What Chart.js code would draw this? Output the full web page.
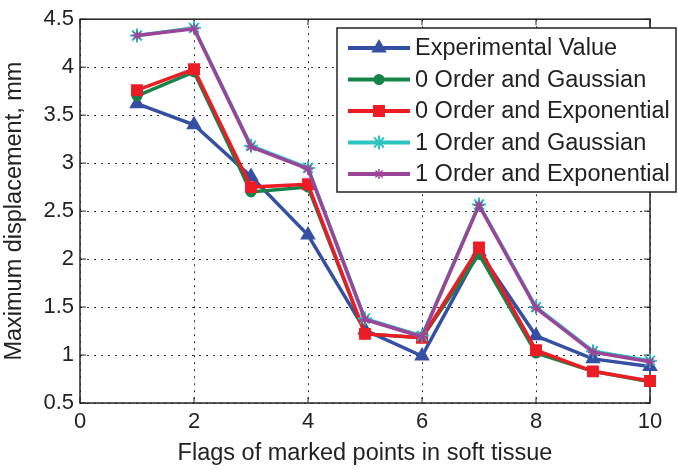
<!DOCTYPE html>
<html>
<head>
<meta charset="utf-8">
<script src="https://cdn.jsdelivr.net/npm/chart.js@4/dist/chart.umd.min.js"></script>
<style>
  html, body { margin: 0; padding: 0; background: #fff; }
  #wrap { width: 678px; height: 470px; }
</style>
</head>
<body>
<div id="wrap"><canvas id="c" width="678" height="470"></canvas></div>
<script>
const flags = [1, 2, 3, 4, 5, 6, 7, 8, 9, 10];
const expValue = [3.62, 3.40, 2.86, 2.25, 1.26, 0.99, 2.08, 1.20, 0.96, 0.88];
const order0Gauss = [3.70, 3.95, 2.70, 2.75, 1.22, 1.18, 2.05, 1.02, 0.83, 0.72];
const order0Exp = [3.76, 3.98, 2.75, 2.78, 1.22, 1.18, 2.12, 1.05, 0.83, 0.73];
const order1Gauss = [4.33, 4.41, 3.18, 2.95, 1.38, 1.20, 2.57, 1.50, 1.04, 0.94];
const order1Exp = [4.33, 4.40, 3.17, 2.94, 1.37, 1.19, 2.56, 1.49, 1.03, 0.93];
const xTicks = [0, 2, 4, 6, 8, 10];
const yTicks = [0.5, 1, 1.5, 2, 2.5, 3, 3.5, 4, 4.5];

const FONT = '"Liberation Sans", Arial, Helvetica, sans-serif';

const pts = vals => flags.map((f, i) => ({ x: f, y: vals[i] }));

function series(label, vals, color, style, radius, bw, order) {
  return {
    label, data: pts(vals), order,
    borderColor: color, backgroundColor: color,
    borderWidth: 3.5, pointStyle: style, pointRadius: radius,
    pointBorderColor: color, pointBackgroundColor: color, pointBorderWidth: bw,
    tension: 0, clip: false
  };
}

const datasets = [
  series('Experimental Value', expValue, '#3550a3', 'triangle', 7, 2, 5),
  series('0 Order and Gaussian', order0Gauss, '#16834a', 'circle', 4.5, 2, 4),
  series('0 Order and Exponential', order0Exp, '#ec1c24', 'rect', 7, 2, 3),
  series('1 Order and Gaussian', order1Gauss, '#2cc3c0', 'star', 7, 2, 2),
  series('1 Order and Exponential', order1Exp, '#9a4597', 'star', 5, 1.5, 1)
];

// frame + inward ticks like a MATLAB axes
const frame = {
  id: 'frame',
  beforeDatasetsDraw(chart) {
    const { ctx, chartArea: a, scales } = chart;
    ctx.save();
    ctx.strokeStyle = '#222';
    ctx.lineWidth = 1.5;
    ctx.strokeRect(a.left, a.top, a.right - a.left, a.bottom - a.top);
    ctx.lineWidth = 1;
    xTicks.forEach(v => {
      const x = scales.x.getPixelForValue(v);
      ctx.beginPath();
      ctx.moveTo(x, a.bottom); ctx.lineTo(x, a.bottom - 6);
      ctx.moveTo(x, a.top); ctx.lineTo(x, a.top + 6);
      ctx.stroke();
    });
    yTicks.forEach(v => {
      const y = scales.y.getPixelForValue(v);
      ctx.beginPath();
      ctx.moveTo(a.left, y); ctx.lineTo(a.left + 6, y);
      ctx.moveTo(a.right, y); ctx.lineTo(a.right - 6, y);
      ctx.stroke();
    });
    ctx.restore();
  }
};

// legend box drawn inside the axes, top right
const boxLegend = {
  id: 'boxLegend',
  afterDraw(chart) {
    const { ctx } = chart;
    const left = 337, top = 28, w = 339, h = 164;
    ctx.save();
    ctx.fillStyle = '#fff';
    ctx.fillRect(left, top, w, h);
    ctx.strokeStyle = '#222';
    ctx.lineWidth = 1.5;
    ctx.strokeRect(left, top, w, h);
    ctx.font = '23.5px ' + FONT;
    ctx.textBaseline = 'middle';
    datasets.forEach((ds, i) => {
      const y = top + 20 + i * 31.5;
      ctx.strokeStyle = ds.borderColor;
      ctx.lineWidth = 4;
      ctx.beginPath();
      ctx.moveTo(left + 11, y); ctx.lineTo(left + 73, y);
      ctx.stroke();
      ctx.fillStyle = ds.borderColor;
      ctx.lineWidth = ds.pointBorderWidth;
      Chart.helpers.drawPoint(ctx, {
        pointStyle: ds.pointStyle, radius: ds.pointRadius, rotation: 0, borderWidth: ds.pointBorderWidth
      }, left + 42, y);
      ctx.fillStyle = '#222';
      ctx.fillText(ds.label, left + 78, y + 1);
    });
    ctx.restore();
  }
};

new Chart(document.getElementById('c'), {
  type: 'line',
  data: { datasets },
  options: {
    responsive: false,
    animation: false,
    layout: { padding: { top: 19, right: 28, left: 0, bottom: 0 } },
    plugins: { legend: { display: false }, tooltip: { enabled: false } },
    scales: {
      x: {
        type: 'linear', min: 0, max: 10,
        afterFit: s => { s.height = 67; },
        afterBuildTicks: s => { s.ticks = xTicks.map(v => ({ value: v })); },
        ticks: { color: '#222', font: { family: FONT, size: 22 }, padding: 6, maxRotation: 0 },
        grid: { color: '#333', lineWidth: 1, drawTicks: false },
        border: { display: false, dash: [2, 5] },
        title: { display: true, text: 'Flags of marked points in soft tissue', color: '#222',
                 font: { family: FONT, size: 23.5 }, padding: { top: 0, bottom: 2 } }
      },
      y: {
        min: 0.5, max: 4.5,
        afterFit: s => { s.width = 80; },
        afterBuildTicks: s => { s.ticks = yTicks.map(v => ({ value: v })); },
        ticks: { color: '#222', font: { family: FONT, size: 22 }, padding: 6,
                 callback: v => String(v) },
        grid: { color: '#333', lineWidth: 1, drawTicks: false },
        border: { display: false, dash: [2, 5] },
        title: { display: true, text: 'Maximum displacement, mm', color: '#222',
                 font: { family: FONT, size: 23.5 }, padding: { top: 0, bottom: 0 } }
      }
    }
  },
  plugins: [frame, boxLegend]
});
</script>
</body>
</html>
